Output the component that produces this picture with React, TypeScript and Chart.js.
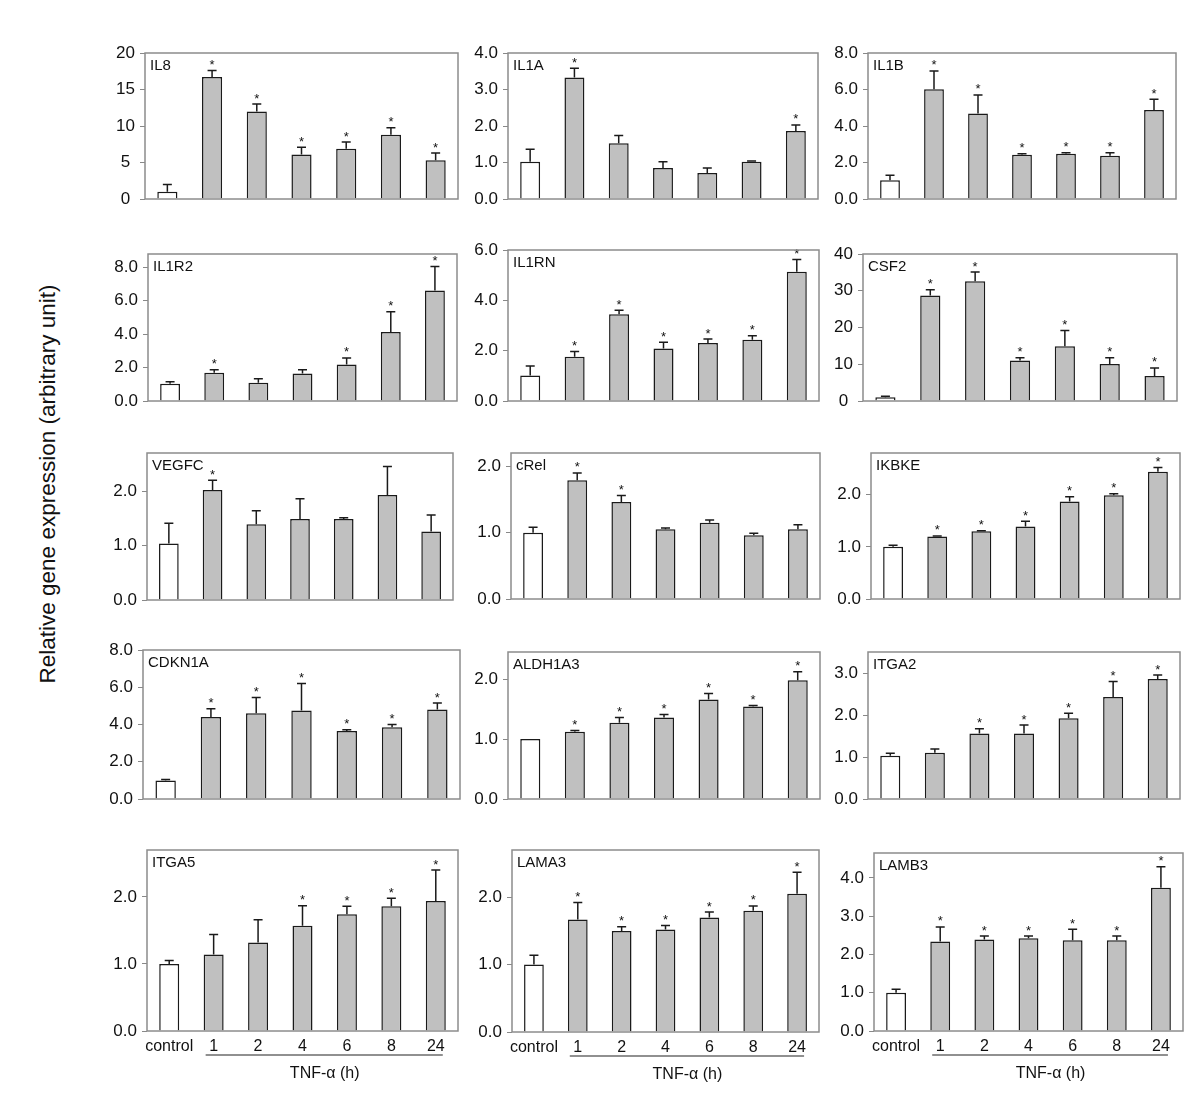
import React, { useEffect, useRef } from "react";
import { Chart, registerables } from "chart.js";

Chart.register(...registerables);
Chart.defaults.font.family = '"Liberation Sans", Arial, Helvetica, sans-serif';

const CATEGORIES = ["control", "1", "2", "4", "6", "8", "24"];
const X_TITLE = "TNF-α (h)";
const Y_TITLE = "Relative gene expression (arbitrary unit)";

// mean values, upper error (SD) and significance markers per gene
const IL8_MEAN = [1.0, 16.7, 12.0, 6.1, 6.9, 8.8, 5.3];
const IL8_ERR = [1.0, 0.9, 1.0, 1.0, 0.9, 0.95, 1.0];
const IL8_SIG = [0, 1, 1, 1, 1, 1, 1];

const IL1A_MEAN = [1.02, 3.33, 1.53, 0.85, 0.71, 1.02, 1.86];
const IL1A_ERR = [0.34, 0.25, 0.21, 0.17, 0.14, 0.02, 0.17];
const IL1A_SIG = [0, 1, 0, 0, 0, 0, 1];

const IL1B_MEAN = [1.03, 6.02, 4.68, 2.42, 2.48, 2.37, 4.87];
const IL1B_ERR = [0.27, 1.0, 1.02, 0.06, 0.05, 0.16, 0.6];
const IL1B_SIG = [0, 1, 1, 1, 1, 1, 1];

const IL1R2_MEAN = [1.04, 1.69, 1.09, 1.64, 2.18, 4.13, 6.62];
const IL1R2_ERR = [0.11, 0.18, 0.24, 0.23, 0.4, 1.22, 1.43];
const IL1R2_SIG = [0, 1, 0, 0, 1, 1, 1];

const IL1RN_MEAN = [1.01, 1.76, 3.45, 2.09, 2.3, 2.43, 5.14];
const IL1RN_ERR = [0.38, 0.21, 0.16, 0.24, 0.16, 0.16, 0.48];
const IL1RN_SIG = [0, 1, 1, 1, 1, 1, 1];

const CSF2_MEAN = [1.0, 28.7, 32.6, 11.0, 14.9, 10.1, 6.8];
const CSF2_ERR = [0.3, 1.6, 2.5, 0.8, 4.3, 1.7, 2.2];
const CSF2_SIG = [0, 1, 1, 1, 1, 1, 1];

const VEGFC_MEAN = [1.04, 2.02, 1.39, 1.49, 1.49, 1.93, 1.26];
const VEGFC_ERR = [0.37, 0.18, 0.25, 0.37, 0.02, 0.52, 0.3];
const VEGFC_SIG = [0, 1, 0, 0, 0, 0, 0];

const CREL_MEAN = [1.0, 1.79, 1.46, 1.05, 1.15, 0.96, 1.05];
const CREL_ERR = [0.08, 0.11, 0.1, 0.02, 0.04, 0.03, 0.07];
const CREL_SIG = [0, 1, 1, 0, 0, 0, 0];

const IKBKE_MEAN = [1.0, 1.2, 1.3, 1.39, 1.87, 1.99, 2.44];
const IKBKE_ERR = [0.03, 0.01, 0.01, 0.1, 0.09, 0.03, 0.08];
const IKBKE_SIG = [0, 1, 1, 1, 1, 1, 1];

const CDKN1A_MEAN = [1.0, 4.4, 4.6, 4.75, 3.65, 3.85, 4.8];
const CDKN1A_ERR = [0.05, 0.45, 0.85, 1.45, 0.07, 0.15, 0.35];
const CDKN1A_SIG = [0, 1, 1, 1, 1, 1, 1];

const ALDH1A3_MEAN = [1.0, 1.12, 1.27, 1.36, 1.66, 1.54, 1.98];
const ALDH1A3_ERR = [0, 0.02, 0.09, 0.05, 0.1, 0.02, 0.14];
const ALDH1A3_SIG = [0, 1, 1, 1, 1, 1, 1];

const ITGA2_MEAN = [1.03, 1.1, 1.56, 1.56, 1.92, 2.43, 2.86];
const ITGA2_ERR = [0.06, 0.09, 0.11, 0.2, 0.12, 0.37, 0.09];
const ITGA2_SIG = [0, 0, 1, 1, 1, 1, 1];

const ITGA5_MEAN = [1.0, 1.14, 1.32, 1.57, 1.74, 1.86, 1.94];
const ITGA5_ERR = [0.05, 0.3, 0.34, 0.3, 0.12, 0.12, 0.46];
const ITGA5_SIG = [0, 0, 0, 1, 1, 1, 1];

const LAMA3_MEAN = [1.0, 1.67, 1.5, 1.52, 1.7, 1.8, 2.05];
const LAMA3_ERR = [0.14, 0.25, 0.06, 0.06, 0.08, 0.07, 0.32];
const LAMA3_SIG = [0, 1, 1, 1, 1, 1, 1];

const LAMB3_MEAN = [1.0, 2.34, 2.39, 2.42, 2.37, 2.37, 3.74];
const LAMB3_ERR = [0.09, 0.38, 0.09, 0.06, 0.29, 0.11, 0.55];
const LAMB3_SIG = [0, 1, 1, 1, 1, 1, 1];

type PanelCfg = {
  name: string;
  mean: number[];
  err: number[];
  sig: number[];
  max: number;
  step: number;
  decimals: number;
  box: [number, number, number, number];
  bottom: boolean;
};

const PANELS: PanelCfg[] = [
  { name: "IL8", mean: IL8_MEAN, err: IL8_ERR, sig: IL8_SIG, max: 20, step: 5, decimals: 0, box: [145, 53, 458, 213], bottom: false },
  { name: "IL1A", mean: IL1A_MEAN, err: IL1A_ERR, sig: IL1A_SIG, max: 4, step: 1, decimals: 1, box: [508, 53, 818, 213], bottom: false },
  { name: "IL1B", mean: IL1B_MEAN, err: IL1B_ERR, sig: IL1B_SIG, max: 8, step: 2, decimals: 1, box: [868, 53, 1176, 213], bottom: false },
  { name: "IL1R2", mean: IL1R2_MEAN, err: IL1R2_ERR, sig: IL1R2_SIG, max: 8.8, step: 2, decimals: 1, box: [148, 254, 457, 415], bottom: false },
  { name: "IL1RN", mean: IL1RN_MEAN, err: IL1RN_ERR, sig: IL1RN_SIG, max: 6, step: 2, decimals: 1, box: [508, 250, 819, 415], bottom: false },
  { name: "CSF2", mean: CSF2_MEAN, err: CSF2_ERR, sig: CSF2_SIG, max: 40, step: 10, decimals: 0, box: [863, 254, 1177, 415], bottom: false },
  { name: "VEGFC", mean: VEGFC_MEAN, err: VEGFC_ERR, sig: VEGFC_SIG, max: 2.7, step: 1, decimals: 1, box: [147, 453, 453, 614], bottom: false },
  { name: "cRel", mean: CREL_MEAN, err: CREL_ERR, sig: CREL_SIG, max: 2.2, step: 1, decimals: 1, box: [511, 453, 820, 613], bottom: false },
  { name: "IKBKE", mean: IKBKE_MEAN, err: IKBKE_ERR, sig: IKBKE_SIG, max: 2.8, step: 1, decimals: 1, box: [871, 453, 1180, 613], bottom: false },
  { name: "CDKN1A", mean: CDKN1A_MEAN, err: CDKN1A_ERR, sig: CDKN1A_SIG, max: 8, step: 2, decimals: 1, box: [143, 650, 460, 813], bottom: false },
  { name: "ALDH1A3", mean: ALDH1A3_MEAN, err: ALDH1A3_ERR, sig: ALDH1A3_SIG, max: 2.45, step: 1, decimals: 1, box: [508, 652, 820, 813], bottom: false },
  { name: "ITGA2", mean: ITGA2_MEAN, err: ITGA2_ERR, sig: ITGA2_SIG, max: 3.5, step: 1, decimals: 1, box: [868, 652, 1180, 813], bottom: false },
  { name: "ITGA5", mean: ITGA5_MEAN, err: ITGA5_ERR, sig: ITGA5_SIG, max: 2.7, step: 1, decimals: 1, box: [147, 850, 458, 1031], bottom: true },
  { name: "LAMA3", mean: LAMA3_MEAN, err: LAMA3_ERR, sig: LAMA3_SIG, max: 2.7, step: 1, decimals: 1, box: [512, 850, 819, 1032], bottom: true },
  { name: "LAMB3", mean: LAMB3_MEAN, err: LAMB3_ERR, sig: LAMB3_SIG, max: 4.65, step: 1, decimals: 1, box: [874, 853, 1183, 1031], bottom: true },
];

const FONT = '"Liberation Sans", Arial, Helvetica, sans-serif';
const PAD_L = 60;
const PAD_T = 20;
const PAD_R = 22;

function Panel({ cfg }: { cfg: PanelCfg }) {
  const ref = useRef<HTMLCanvasElement>(null);
  const [L, T, R, B] = cfg.box;
  const xH = cfg.bottom ? 80 : 14;
  const w = R - L + PAD_L + PAD_R;
  const h = B - T + PAD_T + xH;

  useEffect(() => {
    if (!ref.current) return;
    const panelPlugin = {
      id: "panelDecor",
      afterDatasetsDraw(chart: any) {
        const { ctx, chartArea } = chart;
        const y = chart.scales.y;
        const x = chart.scales.x;
        const meta = chart.getDatasetMeta(0);
        ctx.save();
        meta.data.forEach((bar: any, i: number) => {
          const top = cfg.mean[i] + cfg.err[i];
          const yTop = y.getPixelForValue(top);
          const yBar = y.getPixelForValue(cfg.mean[i]);
          if (cfg.err[i] > 0) {
            ctx.strokeStyle = "#1a1a1a";
            ctx.lineWidth = 1.5;
            ctx.beginPath();
            ctx.moveTo(bar.x, yBar);
            ctx.lineTo(bar.x, yTop);
            ctx.moveTo(bar.x - 4.5, yTop);
            ctx.lineTo(bar.x + 4.5, yTop);
            ctx.stroke();
          }
          if (cfg.sig[i]) {
            ctx.fillStyle = "#111";
            ctx.font = `13px ${FONT}`;
            ctx.textAlign = "center";
            ctx.textBaseline = "alphabetic";
            ctx.fillText("*", bar.x, yTop - 1.5);
          }
        });
        // frame
        ctx.strokeStyle = "#8c8c8c";
        ctx.lineWidth = 1.5;
        ctx.strokeRect(chartArea.left, chartArea.top, chartArea.right - chartArea.left, chartArea.bottom - chartArea.top);
        // gene name
        ctx.fillStyle = "#111";
        ctx.font = `15px ${FONT}`;
        ctx.textAlign = "left";
        ctx.textBaseline = "top";
        ctx.fillText(cfg.name, chartArea.left + 5, chartArea.top + 5);
        if (cfg.bottom && x) {
          const x1 = x.getPixelForValue(1) - 8;
          const x2 = x.getPixelForValue(CATEGORIES.length - 1) + 7;
          const yl = chartArea.bottom + 24;
          ctx.strokeStyle = "#222";
          ctx.lineWidth = 1.2;
          ctx.beginPath();
          ctx.moveTo(x1, yl);
          ctx.lineTo(x2, yl);
          ctx.stroke();
          ctx.fillStyle = "#111";
          ctx.font = `16px ${FONT}`;
          ctx.textAlign = "center";
          ctx.textBaseline = "middle";
          const xc = (x.getPixelForValue(1) + x.getPixelForValue(CATEGORIES.length - 1)) / 2;
          ctx.fillText(X_TITLE, xc, chartArea.bottom + 43);
        }
        ctx.restore();
      },
    };

    const chart = new Chart(ref.current, {
      type: "bar",
      data: {
        labels: CATEGORIES,
        datasets: [
          {
            data: cfg.mean,
            backgroundColor: cfg.mean.map((_, i) => (i === 0 ? "#ffffff" : "#c0c0c0")),
            borderColor: "#1a1a1a",
            borderWidth: 1.5,
            barPercentage: 0.45,
            categoryPercentage: 1,
          },
        ],
      },
      options: {
        responsive: false,
        animation: false,
        devicePixelRatio: 1,
        layout: { padding: { left: 0, top: PAD_T, right: PAD_R, bottom: cfg.bottom ? 0 : xH } },
        plugins: { legend: { display: false }, tooltip: { enabled: false } },
        scales: {
          x: {
            display: cfg.bottom,
            grid: { display: false, drawTicks: false },
            border: { display: false },
            ticks: { color: "#111", font: { size: 16, family: FONT }, padding: 6, maxRotation: 0, autoSkip: false },
            afterFit: (s: any) => {
              s.height = xH;
            },
          },
          y: {
            min: 0,
            max: cfg.max,
            ticks: {
              stepSize: cfg.step,
              includeBounds: false,
              padding: 5,
              crossAlign: "center",
              color: "#111",
              font: { size: 17, family: FONT },
              callback: (v: any) => Number(v).toFixed(cfg.decimals),
            },
            grid: { drawOnChartArea: false, tickLength: 5, color: "#888", lineWidth: 1 },
            border: { display: false },
            afterFit: (s: any) => {
              s.width = PAD_L;
            },
          },
        },
      } as any,
      plugins: [panelPlugin as any],
    });
    return () => chart.destroy();
  }, []);

  return (
    <canvas
      ref={ref}
      width={w}
      height={h}
      style={{ position: "absolute", left: L - PAD_L, top: T - PAD_T, width: w, height: h }}
    />
  );
}

export default function App() {
  return (
    <div style={{ position: "absolute", left: 0, top: 0, width: 1200, height: 1120, background: "#fff" }}>
      {PANELS.map((p) => (
        <Panel key={p.name} cfg={p} />
      ))}
      <div
        style={{
          position: "absolute",
          left: 48 - 300,
          top: 484 - 14,
          width: 600,
          height: 28,
          lineHeight: "28px",
          textAlign: "center",
          fontFamily: FONT,
          fontSize: 22.5,
          color: "#111",
          transform: "rotate(-90deg)",
          transformOrigin: "50% 50%",
          whiteSpace: "nowrap",
        }}
      >
        {Y_TITLE}
      </div>
    </div>
  );
}
